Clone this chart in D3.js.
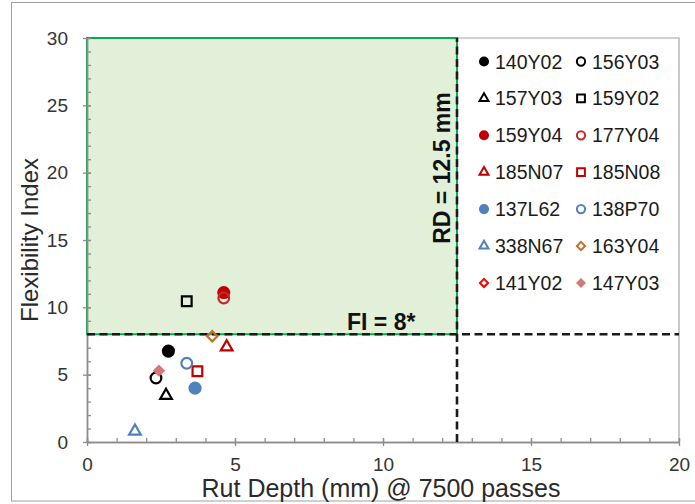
<!DOCTYPE html>
<html>
<head>
<meta charset="utf-8">
<script src="https://cdn.jsdelivr.net/npm/d3@7"></script>
<style>
  body { margin: 0; background: #fff; }
  text { font-family: "Liberation Sans", Arial, sans-serif; }
</style>
</head>
<body>
<div id="chart"></div>
<script>
// mixture names, as in the legend (two columns, read row by row)
var mixNames = ["140Y02", "156Y03", "157Y03", "159Y02", "159Y04", "177Y04", "185N07",
  "185N08", "137L62", "138P70", "338N67", "163Y04", "141Y02", "147Y03"];
// rut depth (mm) @ 7500 passes
var rutDepth = [2.75, 2.33, 2.67, 3.37, 4.62, 4.62, 4.72, 3.73, 3.65, 3.37, 1.62, 4.23, null, 2.43];
// flexibility index
var flexIndex = [6.75, 4.75, 3.45, 10.45, 11.1, 10.7, 7.05, 5.25, 4.0, 5.85, 0.8, 7.85, null, 5.3];
var markerShape = ["circle", "circle", "triangle", "square", "circle", "circle", "triangle",
  "square", "circle", "circle", "triangle", "diamond", "diamond", "diamond"];
var markerFilled = [true, false, false, false, true, false, false, false, true, false, false, false, false, true];
var markerColor = ["#000000", "#000000", "#000000", "#000000", "#c00000", "#c62828", "#c00000",
  "#c00000", "#4f81bd", "#4f81bd", "#4f81bd", "#c0702a", "#ff0000", "#d47878"];

var xTicks = [0, 5, 10, 15, 20];
var yTicks = [0, 5, 10, 15, 20, 25, 30];
var fiLimit = 8;
var rdLimit = 12.5;

var wide = 695;
var high = 504;

var svg = d3.select("#chart").append("svg")
  .attr("width", wide)
  .attr("height", high);

// outer chart frame
svg.append("rect")
  .attr("x", 11.5).attr("y", 2.5)
  .attr("width", 700).attr("height", 498.5)
  .attr("fill", "none").attr("stroke", "#a0a0a0");

var xScale = d3.scaleLinear().domain([0, 20]).range([87, 679]);
var yScale = d3.scaleLinear().domain([0, 30]).range([442, 38]);

// plot border (top and right)
svg.append("path")
  .attr("d", "M" + xScale(0) + "," + yScale(30) + "H" + xScale(20) + "V" + yScale(0))
  .attr("fill", "none").attr("stroke", "#a6a6a6").attr("stroke-width", 1.2);

// acceptable zone
svg.append("rect")
  .attr("x", xScale(0)).attr("y", yScale(30))
  .attr("width", xScale(rdLimit) - xScale(0))
  .attr("height", yScale(fiLimit) - yScale(30))
  .attr("fill", "#e2efd9")
  .attr("stroke", "#00b050").attr("stroke-width", 2);

// minor ticks (inside)
svg.append("g")
  .attr("class", "minorX")
  .attr("transform", "translate(0," + yScale(0) + ")")
  .call(d3.axisBottom(xScale).tickValues(d3.range(0, 21)).tickSize(-4).tickSizeOuter(0).tickFormat(""));
svg.append("g")
  .attr("class", "minorY")
  .attr("transform", "translate(" + xScale(0) + ",0)")
  .call(d3.axisLeft(yScale).tickValues(d3.range(0, 31)).tickSize(-4).tickSizeOuter(0).tickFormat(""));

// major axes
var xAxisG = svg.append("g")
  .attr("class", "xAxis")
  .attr("transform", "translate(0," + yScale(0) + ")")
  .call(d3.axisBottom(xScale).tickValues(xTicks).tickSize(4).tickSizeOuter(0).tickPadding(12));
xAxisG.selectAll(".tick line").attr("y1", -4);

var yAxisG = svg.append("g")
  .attr("class", "yAxis")
  .attr("transform", "translate(" + xScale(0) + ",0)")
  .call(d3.axisLeft(yScale).tickValues(yTicks).tickSize(4).tickSizeOuter(0).tickPadding(15));
yAxisG.selectAll(".tick line").attr("x1", 4);

svg.selectAll(".xAxis, .yAxis, .minorX, .minorY").selectAll("path, line")
  .attr("stroke", "#8c8c8c").attr("stroke-width", 1.3);
svg.selectAll(".xAxis, .yAxis").select(".domain").attr("stroke-width", 1.6);
svg.selectAll(".xAxis text, .yAxis text")
  .attr("font-size", 19)
  .attr("fill", "#333333")
  .style("font-family", "'Liberation Sans', Arial, sans-serif");

// limit lines
svg.append("line")
  .attr("x1", xScale(0)).attr("x2", xScale(20))
  .attr("y1", yScale(fiLimit)).attr("y2", yScale(fiLimit))
  .attr("stroke", "#1a1a1a").attr("stroke-width", 2.6)
  .attr("stroke-dasharray", "8,4.5");
svg.append("line")
  .attr("x1", xScale(rdLimit)).attr("x2", xScale(rdLimit))
  .attr("y1", yScale(0)).attr("y2", yScale(30))
  .attr("stroke", "#1a1a1a").attr("stroke-width", 2.6)
  .attr("stroke-dasharray", "8,4.5");

svg.append("text")
  .attr("x", 347).attr("y", 330)
  .attr("font-size", 23).attr("font-weight", "bold")
  .attr("fill", "#111")
  .text("FI = " + fiLimit + "*");
svg.append("text")
  .attr("transform", "translate(450,168) rotate(-90)")
  .attr("text-anchor", "middle")
  .attr("font-size", 23).attr("font-weight", "bold")
  .attr("fill", "#111")
  .text("RD = " + rdLimit + " mm");

// axis titles
svg.append("text")
  .attr("x", 381).attr("y", 497)
  .attr("text-anchor", "middle")
  .attr("font-size", 25)
  .attr("fill", "#2a2a2a")
  .text("Rut Depth (mm) @ 7500 passes");
svg.append("text")
  .attr("transform", "translate(38,240) rotate(-90)")
  .attr("text-anchor", "middle")
  .attr("font-size", 24)
  .attr("fill", "#2a2a2a")
  .text("Flexibility Index");

function symbolPath(shape, big) {
  var sym, size;
  if (shape === "circle") { sym = d3.symbolCircle; size = big ? 135 : 80; }
  else if (shape === "square") { sym = d3.symbolSquare; size = big ? 140 : 90; }
  else if (shape === "triangle") { sym = d3.symbolTriangle; size = big ? 88 : 52; }
  else { sym = d3.symbolSquare; size = big ? 78 : 50; }
  return d3.symbol().type(sym).size(size)();
}

function drawMarker(g, i, big) {
  var filled = markerFilled[i];
  var shrink = filled ? 1 : 0.82;
  g.append("path")
    .attr("d", symbolPath(markerShape[i], big))
    .attr("transform", (markerShape[i] === "diamond" ? "rotate(45)" : "") + (filled ? "" : " scale(" + shrink + ")"))
    .attr("fill", filled ? markerColor[i] : "none")
    .attr("stroke", filled ? "none" : markerColor[i])
    .attr("stroke-width", (big ? 2.2 : 2) / shrink);
}

// points
var pointIdx = d3.range(mixNames.length).filter(function(i) { return rutDepth[i] !== null; });
svg.selectAll("g.point").data(pointIdx).enter()
  .append("g")
  .attr("class", "point")
  .attr("transform", function(i) {
    return "translate(" + xScale(rutDepth[i]) + "," + yScale(flexIndex[i]) + ")";
  })
  .each(function(i) { drawMarker(d3.select(this), i, true); });

// legend
var legend = svg.selectAll("g.legendItem").data(d3.range(mixNames.length)).enter()
  .append("g")
  .attr("class", "legendItem")
  .attr("transform", function(i) {
    var col = i % 2;
    var row = Math.floor(i / 2);
    return "translate(" + (484 + col * 97) + "," + (61.5 + row * 36.9) + ")";
  });
legend.each(function(i) { drawMarker(d3.select(this), i, false); });
legend.append("text")
  .attr("x", 11)
  .attr("y", 7)
  .attr("font-size", 19.5)
  .attr("fill", "#1a1a1a")
  .text(function(i) { return mixNames[i]; });
</script>
</body>
</html>
